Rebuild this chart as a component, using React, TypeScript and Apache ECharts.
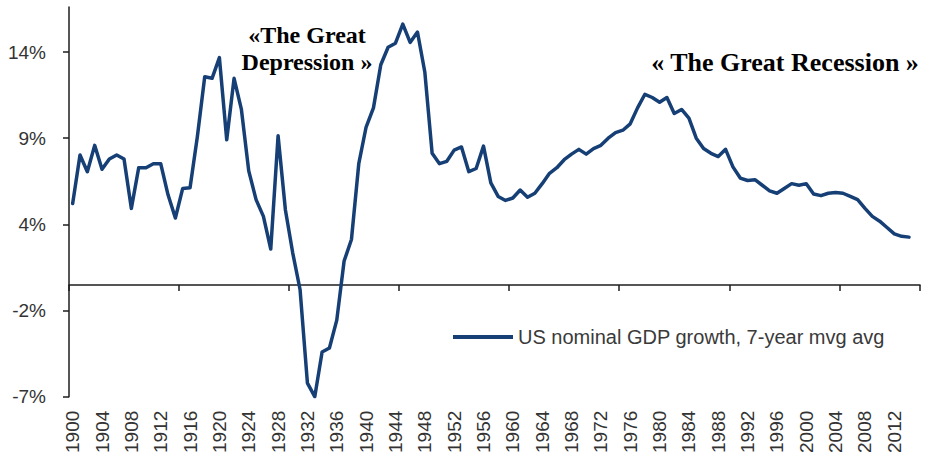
import React, { useEffect, useRef } from "react";
import * as echarts from "echarts";

// Categories: years 1900..2015 (last category has no data)
const years: string[] = Array.from({ length: 116 }, (_, i) => String(1900 + i));

// US nominal GDP growth, 7-year moving average (%), 1900..2014
const gdp1900s = [5.1, 8.15, 7.1, 8.75, 7.25, 7.9, 8.15, 7.9, 4.8, 7.35];
const gdp1910s = [7.35, 7.6, 7.6, 5.65, 4.2, 6.05, 6.1, 9.3, 13.05, 12.95];
const gdp1920s = [14.25, 9.1, 12.95, 11.0, 7.15, 5.35, 4.3, 2.25, 9.35, 4.7];
const gdp1930s = [2.0, -0.3, -6.15, -7.0, -4.2, -3.95, -2.2, 1.5, 2.85, 7.6];
const gdp1940s = [9.9, 11.1, 13.8, 14.9, 15.15, 16.35, 15.2, 15.85, 13.35, 8.25];
const gdp1950s = [7.6, 7.75, 8.45, 8.65, 7.1, 7.3, 8.7, 6.4, 5.55, 5.3];
const gdp1960s = [5.45, 5.95, 5.5, 5.75, 6.35, 7.0, 7.35, 7.85, 8.2, 8.5];
const gdp1970s = [8.2, 8.55, 8.75, 9.2, 9.55, 9.7, 10.1, 11.1, 11.95, 11.75];
const gdp1980s = [11.45, 11.75, 10.75, 11.0, 10.45, 9.2, 8.55, 8.25, 8.05, 8.5];
const gdp1990s = [7.4, 6.7, 6.55, 6.6, 6.25, 5.9, 5.75, 6.05, 6.35, 6.25];
const gdp2000s = [6.35, 5.7, 5.6, 5.75, 5.8, 5.75, 5.55, 5.35, 4.8, 4.3];
const gdp2010s = [4.0, 3.6, 3.2, 3.05, 3.0];

const gdpValues: number[] = [
  ...gdp1900s, ...gdp1910s, ...gdp1920s, ...gdp1930s, ...gdp1940s, ...gdp1950s,
  ...gdp1960s, ...gdp1970s, ...gdp1980s, ...gdp1990s, ...gdp2000s, ...gdp2010s,
];

// Y axis ticks (values) and their printed labels
const yTickValues = [-7, -1.6, 3.8, 9.2, 14.6];
const yTickLabels = ["-7%", "-2%", "4%", "9%", "14%"];
const yMin = -7;
const yMax = 17.42;

const seriesName = "US nominal GDP growth, 7-year mvg avg";
const noteDepression1 = "«The Great";
const noteDepression2 = "Depression »";
const noteRecession = "« The Great Recession »";

const LINE_COLOR = "#163f76";
const AXIS_COLOR = "#1e1e1e";
const SANS = "'Liberation Sans', Arial, sans-serif";
const SERIF = "'Liberation Serif', 'Times New Roman', serif";

export default function App() {
  const ref = useRef<HTMLDivElement>(null);

  useEffect(() => {
    if (!ref.current) return;
    const chart = echarts.init(ref.current, undefined, { renderer: "svg" });
    const labelFor = (v: number) => {
      for (let i = 0; i < yTickValues.length; i++) {
        if (Math.abs(yTickValues[i] - v) < 1e-6) return yTickLabels[i];
      }
      return "";
    };
    chart.setOption({
      animation: false,
      backgroundColor: "#ffffff",
      grid: {
        left: 69,
        right: 6,
        top: 7,
        bottom: 63.3,
        containLabel: false,
        outerBoundsMode: "none",
      },
      legend: {
        show: true,
        data: [seriesName],
        left: 453,
        top: 327,
        padding: 0,
        icon: "rect",
        itemWidth: 60,
        itemHeight: 4,
        selectedMode: false,
        textStyle: { fontSize: 20, color: "#3a3a3a", fontFamily: SANS },
      },
      xAxis: [
        {
          type: "category",
          data: years,
          boundaryGap: true,
          position: "bottom",
          axisLine: { show: true, onZero: true, lineStyle: { color: AXIS_COLOR, width: 1.5 } },
          axisTick: { show: true, interval: 14, length: 6, inside: false, lineStyle: { color: AXIS_COLOR, width: 1.5 } },
          axisLabel: { show: false },
          splitLine: { show: false },
        },
        {
          type: "category",
          data: years,
          boundaryGap: true,
          position: "bottom",
          axisLine: { show: false, onZero: false },
          axisTick: { show: false },
          axisLabel: {
            show: true,
            interval: 3,
            rotate: 90,
            margin: 14,
            fontSize: 19,
            color: "#333333",
            fontFamily: SANS,
          },
          splitLine: { show: false },
        },
      ],
      yAxis: {
        type: "value",
        min: yMin,
        max: yMax,
        axisLine: { show: true, lineStyle: { color: AXIS_COLOR, width: 1.5 } },
        axisTick: {
          show: true,
          length: 6,
          customValues: yTickValues,
          lineStyle: { color: AXIS_COLOR, width: 1.5 },
        },
        axisLabel: {
          show: true,
          customValues: yTickValues,
          margin: 23,
          fontSize: 19,
          color: "#333333",
          fontFamily: SANS,
          formatter: (v: number) => labelFor(v),
        },
        splitLine: { show: false },
      },
      series: [
        {
          name: seriesName,
          type: "line",
          xAxisIndex: 0,
          yAxisIndex: 0,
          data: gdpValues,
          showSymbol: false,
          symbol: "none",
          color: LINE_COLOR,
          lineStyle: { color: LINE_COLOR, width: 3.5, join: "round", cap: "round" },
          itemStyle: { color: LINE_COLOR },
        },
      ],
      graphic: [
        {
          type: "text",
          x: 307,
          y: 35,
          style: { text: noteDepression1, font: `bold 24px ${SERIF}`, fill: "#000", textAlign: "center", textVerticalAlign: "middle" },
        },
        {
          type: "text",
          x: 307,
          y: 62,
          style: { text: noteDepression2, font: `bold 24px ${SERIF}`, fill: "#000", textAlign: "center", textVerticalAlign: "middle" },
        },
        {
          type: "text",
          x: 785,
          y: 62,
          style: { text: noteRecession, font: `bold 26px ${SERIF}`, fill: "#000", textAlign: "center", textVerticalAlign: "middle" },
        },
      ],
    });
    return () => chart.dispose();
  }, []);

  return (
    <div style={{ position: "absolute", left: 0, top: 0, width: 926, height: 460, background: "#fff" }}>
      <div ref={ref} style={{ width: 926, height: 460 }} />
    </div>
  );
}
